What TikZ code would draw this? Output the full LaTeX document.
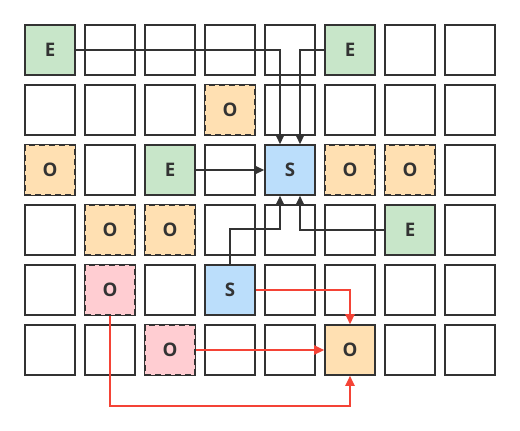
\documentclass[tikz,border=0pt]{standalone}
\usepackage{fontspec}
\setmainfont{Open Sans}
\usetikzlibrary{arrows.meta,calc}
\definecolor{ink}{HTML}{333333}
\definecolor{cgreen}{HTML}{C8E6C9}
\definecolor{cblue}{HTML}{BBDEFB}
\definecolor{corange}{HTML}{FFE0B2}
\definecolor{cpink}{HTML}{FFCDD2}
\definecolor{cred}{HTML}{F44336}
\tikzset{
  cell/.style={draw=ink, line width=1.3pt, minimum size=37.5pt, inner sep=0pt, fill=white,
    font=\fontsize{14}{14}\selectfont\bfseries, text=ink},
  ecell/.style={cell, fill=cgreen},
  scell/.style={cell, fill=cblue},
  ocell/.style={cell, fill=corange, dash pattern=on 4.5pt off 3pt},
  pcell/.style={cell, fill=cpink, dash pattern=on 4.5pt off 3pt},
  tcell/.style={cell, fill=corange},
  conn/.style={draw=ink, line width=1.1pt, -{Triangle[length=7.5pt,width=7pt]}},
  rconn/.style={draw=cred, line width=1.1pt, -{Triangle[length=7.5pt,width=7pt]}},
}
\begin{document}
\begin{tikzpicture}[x=0.75pt,y=-0.75pt]
\useasboundingbox (0,0) rectangle (520,430);
% plain cells
\foreach \i in {0,...,7}{
  \foreach \j in {0,...,5}{
    \node[cell] (c\i\j) at (50+60*\i,50+60*\j) {};
  }
}
% special cells
\node[ecell] (e00) at (c00) {E};
\node[ecell] (e50) at (c50) {E};
\node[ocell] (o31) at (c31) {O};
\node[ocell] (o02) at (c02) {O};
\node[ecell] (e22) at (c22) {E};
\node[scell] (s) at (c42) {S};
\node[ocell] (o52) at (c52) {O};
\node[ocell] (o62) at (c62) {O};
\node[ocell] (o13) at (c13) {O};
\node[ocell] (o23) at (c23) {O};
\node[ecell] (e63) at (c63) {E};
\node[pcell] (p14) at (c14) {O};
\node[scell] (s2) at (c34) {S};
\node[pcell] (p25) at (c25) {O};
\node[tcell] (ot) at (c55) {O};
% dark connectors
\draw[conn] (e00.east) -| ($(s.north)+(-10,0)$);
\draw[conn] (e50.west) -| ($(s.north)+(10,0)$);
\draw[conn] (e22) -- (s);
\draw[conn] (e63.west) -| ($(s.south)+(10,0)$);
\draw[conn] (s2.north) -- ++(0,-35) -| ($(s.south)+(-10,0)$);
% red connectors
\draw[rconn] (s2.east) -| (ot.north);
\draw[rconn] (p25.east) -- (ot.west);
\draw[rconn] (p14.south) -- ++(0,90) -| (ot.south);
\end{tikzpicture}
\end{document}
